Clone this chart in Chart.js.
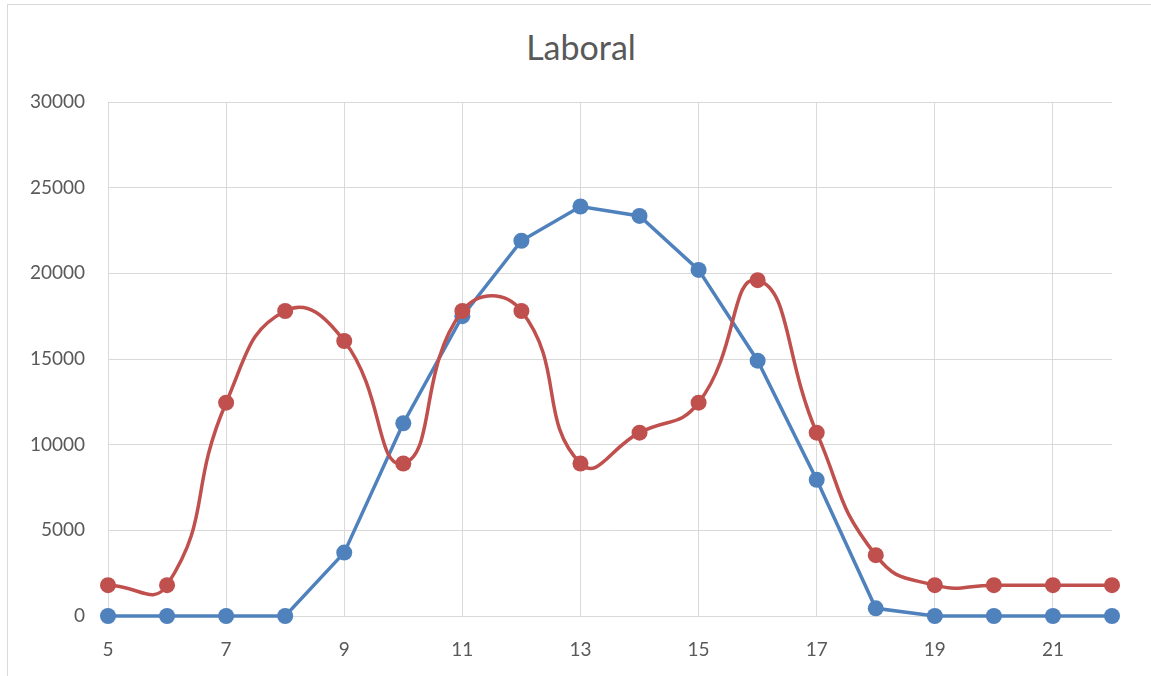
<!DOCTYPE html>
<html>
<head>
<meta charset="utf-8">
<title>Laboral</title>
<script src="https://cdn.jsdelivr.net/npm/chart.js@4/dist/chart.umd.min.js"></script>
<style>
  html, body { margin: 0; padding: 0; background: #ffffff; overflow: hidden; }
  #wrap { position: relative; width: 1151px; height: 676px; }
  #frame { position: absolute; left: 7px; top: 4px; width: 1200px; height: 700px;
           border: 1px solid #d9d9d9; box-sizing: border-box; }
  #title { position: absolute; left: 0; top: 27px; width: 1162px; text-align: center;
           font-family: 'Lato', sans-serif; font-size: 34px; line-height: 40px; color: #595959; }
  #chart { position: absolute; left: 0; top: 0; }
</style>
</head>
<body>
<div id="wrap">
  <div id="frame"></div>
  <div id="title">Laboral</div>
  <canvas id="chart" width="1151" height="676"></canvas>
</div>
<script>
// Hours of the day (x) and the two series
const hours = [5, 6, 7, 8, 9, 10, 11, 12, 13, 14, 15, 16, 17, 18, 19, 20, 21, 22];
const blueSeries = [0, 0, 0, 0, 3700, 11250, 17500, 21900, 23900, 23350, 20200, 14900, 7950, 450, 0, 0, 0, 0];
const redSeries = [1800, 1800, 12450, 17800, 16050, 8900, 17800, 17800, 8900, 10700, 12450, 19600, 10700, 3550, 1800, 1800, 1800, 1800];
const xTickValues = [5, 7, 9, 11, 13, 15, 17, 19, 21];
const yTickValues = [0, 5000, 10000, 15000, 20000, 25000, 30000];

const BLUE = '#4F81BD';
const RED = '#C0504D';
const TEXT = '#595959';
const GRID = '#D9D9D9';

const toPoints = (ys) => hours.map((h, i) => ({ x: h, y: ys[i] }));

const seriesStyle = (color, tension) => ({
  borderColor: color,
  backgroundColor: color,
  borderWidth: 3.5,
  pointRadius: 8,
  pointBorderWidth: 0,
  pointBackgroundColor: color,
  tension: tension,
  fill: false,
  clip: false
});

new Chart(document.getElementById('chart'), {
  type: 'line',
  data: {
    datasets: [
      Object.assign({ label: 'Serie 2', data: toPoints(redSeries) }, seriesStyle(RED, 0.5)),
      Object.assign({ label: 'Serie 1', data: toPoints(blueSeries) }, seriesStyle(BLUE, 0))
    ]
  },
  options: {
    responsive: false,
    animation: false,
    layout: { padding: { left: 0, right: 39, top: 102, bottom: 0 } },
    plugins: {
      legend: { display: false },
      tooltip: { enabled: false },
      title: { display: false }
    },
    scales: {
      x: {
        type: 'linear',
        min: hours[0],
        max: hours[hours.length - 1],
        afterBuildTicks: (scale) => { scale.ticks = xTickValues.map(v => ({ value: v })); },
        afterFit: (scale) => { scale.height = 60; },
        grid: { color: GRID, lineWidth: 1, drawTicks: false },
        border: { color: GRID, width: 1 },
        ticks: {
          color: TEXT,
          padding: 22,
          maxRotation: 0,
          font: { family: 'Lato', size: 19 },
          callback: (v) => String(v)
        }
      },
      y: {
        type: 'linear',
        min: yTickValues[0],
        max: yTickValues[yTickValues.length - 1],
        afterBuildTicks: (scale) => { scale.ticks = yTickValues.map(v => ({ value: v })); },
        afterFit: (scale) => { scale.width = 108; },
        grid: { color: GRID, lineWidth: 1, drawTicks: false },
        border: { color: GRID, width: 1 },
        ticks: {
          color: TEXT,
          padding: 23,
          font: { family: 'Lato', size: 19 },
          callback: (v) => String(v)
        }
      }
    }
  }
});
</script>
</body>
</html>
